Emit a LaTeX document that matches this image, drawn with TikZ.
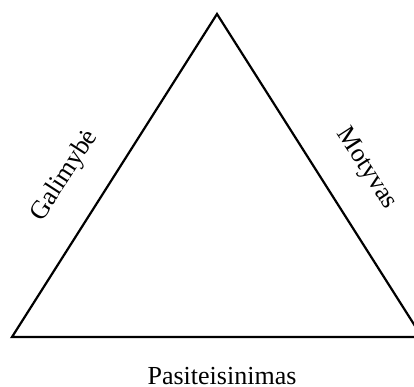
\documentclass[tikz,border=0pt]{standalone}
\usepackage{fontspec}
\setmainfont{Liberation Serif}
\begin{document}
\begin{tikzpicture}[x=1pt,y=-1pt,
  side/.style={line width=2.2pt,line join=miter},
  lbl/.style={inner sep=0pt,font=\fontsize{26}{30}\selectfont}]
\useasboundingbox (0,0) rectangle (414,387);
\clip (0,0) rectangle (414,387);
% corners of the triangle
\coordinate (top) at (217,14);
\coordinate (bl) at (12,337);
\coordinate (br) at (422,337);
\draw[side] (bl) -- (top) -- (br) -- cycle;
% side labels
\node[lbl,rotate=57] (gal) at (65,176) {Galimybė};
\node[lbl,rotate=-57] (mot) at (366,169) {Motyvas};
\node[lbl,anchor=base] (pas) at (222,384) {Pasiteisinimas};
\end{tikzpicture}
\end{document}
